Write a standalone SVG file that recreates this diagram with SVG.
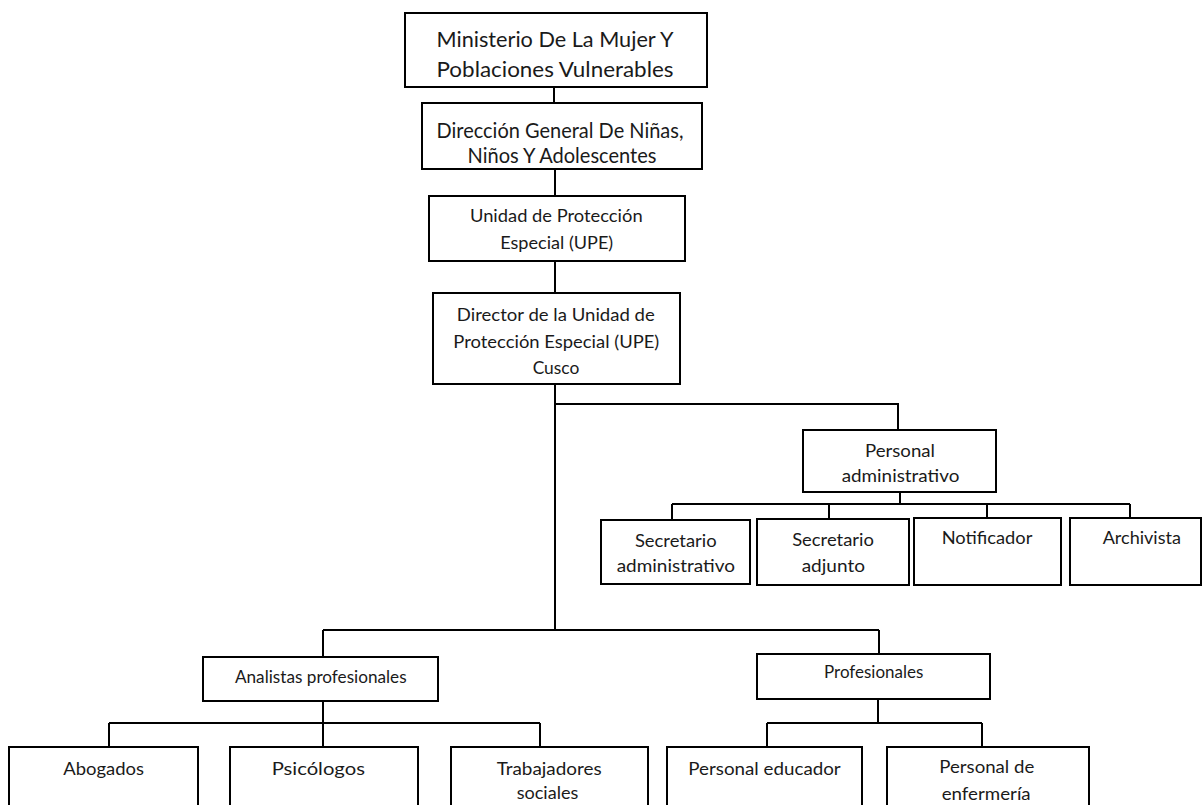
<svg xmlns="http://www.w3.org/2000/svg" width="1204" height="805" viewBox="0 0 1204 805">
<style>
  .box { fill: #ffffff; stroke: #000000; stroke-width: 2; }
  .t { font-family: Lato, "Liberation Sans", sans-serif; fill: #1a1a1a; text-anchor: middle; }
  .xl { font-size: 22px; }
  .l { font-size: 21px; }
  .m { font-size: 17.5px; }
  .s { font-size: 17px; }
  .c { fill: none; stroke: #000000; stroke-width: 2; }
</style>
<rect width="1204" height="805" fill="#ffffff"/>
<g id="connectors">
  <path class="c" d="M554 87 V103"/>
  <path class="c" d="M555 169 V196"/>
  <path class="c" d="M555 261 V293"/>
  <path class="c" d="M555 384 V631"/>
  <path class="c" d="M555 404 H898 V430"/>
  <path class="c" d="M900 492 V504"/>
  <path class="c" d="M672 504 H1130"/>
  <path class="c" d="M672 504 V520"/>
  <path class="c" d="M829 504 V519"/>
  <path class="c" d="M987 504 V518"/>
  <path class="c" d="M1130 504 V518"/>
  <path class="c" d="M323 630 H879"/>
  <path class="c" d="M323 630 V657"/>
  <path class="c" d="M879 630 V654"/>
  <path class="c" d="M323 701 V723"/>
  <path class="c" d="M109 723 H540"/>
  <path class="c" d="M109 723 V747"/>
  <path class="c" d="M323 723 V747"/>
  <path class="c" d="M540 723 V747"/>
  <path class="c" d="M878 699 V723"/>
  <path class="c" d="M767 723 H982"/>
  <path class="c" d="M767 723 V747"/>
  <path class="c" d="M982 723 V747"/>
</g>
<g id="ministerio">
  <rect class="box" x="405" y="13" width="302" height="74"/>
  <text class="t xl" x="555" y="46.7" textLength="237" lengthAdjust="spacingAndGlyphs">Ministerio De La Mujer Y</text>
  <text class="t xl" x="555" y="77.3" textLength="237" lengthAdjust="spacingAndGlyphs">Poblaciones Vulnerables</text>
</g>
<g id="direccion-general">
  <rect class="box" x="422" y="103" width="280" height="66"/>
  <text class="t l" x="560" y="137.7" textLength="247" lengthAdjust="spacingAndGlyphs">Dirección General De Niñas,</text>
  <text class="t l" x="562" y="163.3" textLength="189" lengthAdjust="spacingAndGlyphs">Niños Y Adolescentes</text>
</g>
<g id="upe">
  <rect class="box" x="429" y="196" width="256" height="65"/>
  <text class="t m" x="556.3" y="222.3" textLength="172.7" lengthAdjust="spacingAndGlyphs">Unidad de Protección</text>
  <text class="t m" x="556.7" y="249.3" textLength="113" lengthAdjust="spacingAndGlyphs">Especial (UPE)</text>
</g>
<g id="director">
  <rect class="box" x="433" y="293" width="247" height="91"/>
  <text class="t m" x="555.8" y="321" textLength="198" lengthAdjust="spacingAndGlyphs">Director de la Unidad de</text>
  <text class="t m" x="556.3" y="347.7" textLength="206" lengthAdjust="spacingAndGlyphs">Protección  Especial (UPE)</text>
  <text class="t m" x="556" y="374" textLength="46.7" lengthAdjust="spacingAndGlyphs">Cusco</text>
</g>
<g id="personal-administrativo">
  <rect class="box" x="803" y="430" width="193" height="62"/>
  <text class="t s" x="900" y="456.7" textLength="70" lengthAdjust="spacingAndGlyphs">Personal</text>
  <text class="t s" x="900.5" y="482.3" textLength="117.7" lengthAdjust="spacingAndGlyphs">administrativo</text>
</g>
<g id="secretario-administrativo">
  <rect class="box" x="601" y="520" width="149" height="64"/>
  <text class="t m" x="675.8" y="546.7" textLength="81.7" lengthAdjust="spacingAndGlyphs">Secretario</text>
  <text class="t m" x="675.8" y="572.3" textLength="118.3" lengthAdjust="spacingAndGlyphs">administrativo</text>
</g>
<g id="secretario-adjunto">
  <rect class="box" x="757" y="519" width="152" height="66"/>
  <text class="t m" x="833" y="546" textLength="81.7" lengthAdjust="spacingAndGlyphs">Secretario</text>
  <text class="t m" x="833.3" y="571.7" textLength="63.3" lengthAdjust="spacingAndGlyphs">adjunto</text>
</g>
<g id="notificador">
  <rect class="box" x="914" y="518" width="147" height="67"/>
  <text class="t m" x="987" y="544" textLength="90.7" lengthAdjust="spacingAndGlyphs">Notificador</text>
</g>
<g id="archivista">
  <rect class="box" x="1070" y="518" width="131" height="67"/>
  <text class="t m" x="1141.8" y="544" textLength="78.3" lengthAdjust="spacingAndGlyphs">Archivista</text>
</g>
<g id="analistas-profesionales">
  <rect class="box" x="203" y="657" width="235" height="44"/>
  <text class="t s" x="320.8" y="682.7" textLength="171.7" lengthAdjust="spacingAndGlyphs">Analistas profesionales</text>
</g>
<g id="profesionales">
  <rect class="box" x="757" y="654" width="233" height="45"/>
  <text class="t s" x="873.7" y="678.3" textLength="99.3" lengthAdjust="spacingAndGlyphs">Profesionales</text>
</g>
<g id="abogados">
  <rect class="box" x="9" y="747" width="189" height="70"/>
  <text class="t s" x="103.7" y="775" textLength="80.7" lengthAdjust="spacingAndGlyphs">Abogados</text>
</g>
<g id="psicologos">
  <rect class="box" x="230" y="747" width="188" height="70"/>
  <text class="t s" x="318.3" y="775" textLength="93.3" lengthAdjust="spacingAndGlyphs">Psicólogos</text>
</g>
<g id="trabajadores-sociales">
  <rect class="box" x="451" y="747" width="197" height="70"/>
  <text class="t s" x="549.2" y="775" textLength="105" lengthAdjust="spacingAndGlyphs">Trabajadores</text>
  <text class="t s" x="547.5" y="799" textLength="61.7" lengthAdjust="spacingAndGlyphs">sociales</text>
</g>
<g id="personal-educador">
  <rect class="box" x="667" y="747" width="195" height="70"/>
  <text class="t s" x="764.5" y="775" textLength="152.4" lengthAdjust="spacingAndGlyphs">Personal educador</text>
</g>
<g id="personal-enfermeria">
  <rect class="box" x="887" y="747" width="202" height="70"/>
  <text class="t s" x="986.8" y="773.3" textLength="95" lengthAdjust="spacingAndGlyphs">Personal de</text>
  <text class="t s" x="986.2" y="800" textLength="89" lengthAdjust="spacingAndGlyphs">enfermería</text>
</g>
</svg>
